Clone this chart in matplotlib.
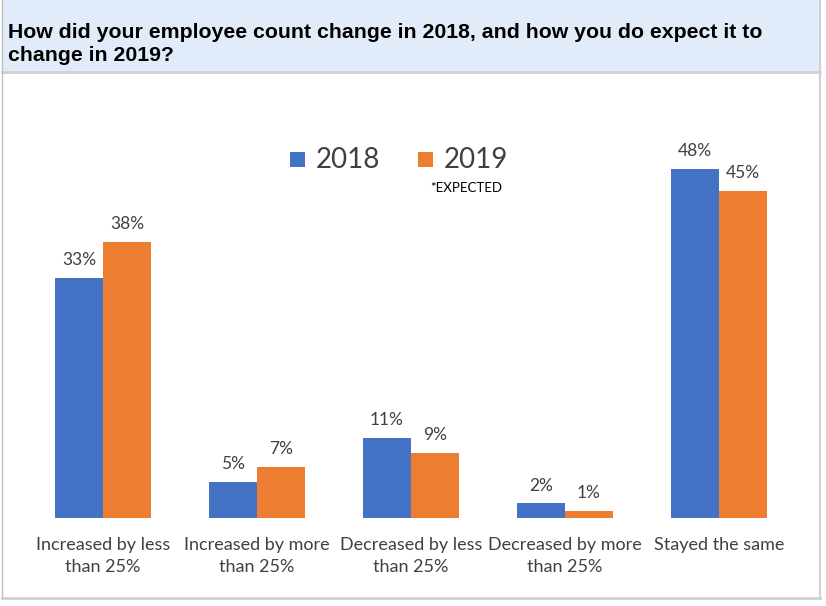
import matplotlib.pyplot as plt
import numpy as np
from matplotlib.patches import Rectangle
from matplotlib.lines import Line2D

categories = ['Increased by less\nthan 25%', 'Increased by more\nthan 25%',
              'Decreased by less\nthan 25%', 'Decreased by more\nthan 25%',
              'Stayed the same']
vals_2018 = [33, 5, 11, 2, 48]
vals_2019 = [38, 7, 9, 1, 45]
series_names = ['2018', '2019']

blue = '#4472c4'
orange = '#ed7d31'
txt = '#404040'
W, H = 826, 606

fig = plt.figure(figsize=(W / 100, H / 100), dpi=100)
fig.patch.set_facecolor('white')

# title band and frame
fig.add_artist(Rectangle((2 / W, 1 - 72 / H), 818 / W, 72 / H, transform=fig.transFigure,
                         facecolor='#e2ebf9', edgecolor='none', zorder=0))
fig.add_artist(Line2D([2 / W, 820 / W], [1 - 72 / H, 1 - 72 / H], transform=fig.transFigure,
                      color='#d0d0d0', lw=2))
fig.add_artist(Line2D([2 / W, 2 / W], [1 - 598 / H, 1], transform=fig.transFigure,
                      color='#bfbfbf', lw=1))
fig.add_artist(Line2D([820 / W, 820 / W], [1 - 598 / H, 1], transform=fig.transFigure,
                      color='#d0d0d0', lw=1.5))
fig.add_artist(Line2D([2 / W, 820 / W], [1 - 598 / H, 1 - 598 / H], transform=fig.transFigure,
                      color='#d0d0d0', lw=2))

fig.text(8 / W, 1 - 44 / H, 'How did your employee count change in 2018, and how you do expect it to\nchange in 2019?',
         fontsize=15.3, fontweight='bold', family='Liberation Sans', color='black',
         va='center', ha='left', linespacing=1.32)

# axes: group centers at 103 + 154*i, baseline y=518, 7.27 px per %
ax_left = 26 / W
ax_w = 770 / W
ax_bottom = 1 - 518 / H
ymax = 55
ax_h = ymax * 7.27 / H
ax = fig.add_axes([ax_left, ax_bottom, ax_w, ax_h])
ax.set_xlim(-0.5, 4.5)
ax.set_ylim(0, ymax)
ax.axis('off')

x = np.arange(len(categories))
bw = 48 / 154
b1 = ax.bar(x - bw / 2, vals_2018, bw, color=blue)
b2 = ax.bar(x + bw / 2, vals_2019, bw, color=orange)

for bars, vals in [(b1, vals_2018), (b2, vals_2019)]:
    for rect, v in zip(bars, vals):
        ax.annotate(f'{v}%', (rect.get_x() + rect.get_width() / 2, v),
                    xytext=(0, 7), textcoords='offset points', ha='center', va='bottom',
                    fontsize=12.5, color=txt, family='Lato', clip_on=False)

for xi, lab in zip(x, categories):
    ax.annotate(lab, (xi, 0), xytext=(0, -14), textcoords='offset points',
                ha='center', va='top', fontsize=13, color=txt, family='Lato',
                linespacing=1.42, annotation_clip=False)

# legend
for name, col, lx in [(series_names[0], blue, 290), (series_names[1], orange, 418)]:
    fig.add_artist(Rectangle((lx / W, 1 - 167 / H), 15 / W, 15 / H, transform=fig.transFigure,
                             facecolor=col, edgecolor='none'))
    fig.text((lx + 26) / W, 1 - 160 / H, name, fontsize=20, color=txt, family='Lato',
             va='center', ha='left')
fig.text(430 / W, 1 - 188 / H, '*EXPECTED', fontsize=9.5, color='black', family='Lato',
         va='center', ha='left')

fig.savefig('out.png', dpi=100)
